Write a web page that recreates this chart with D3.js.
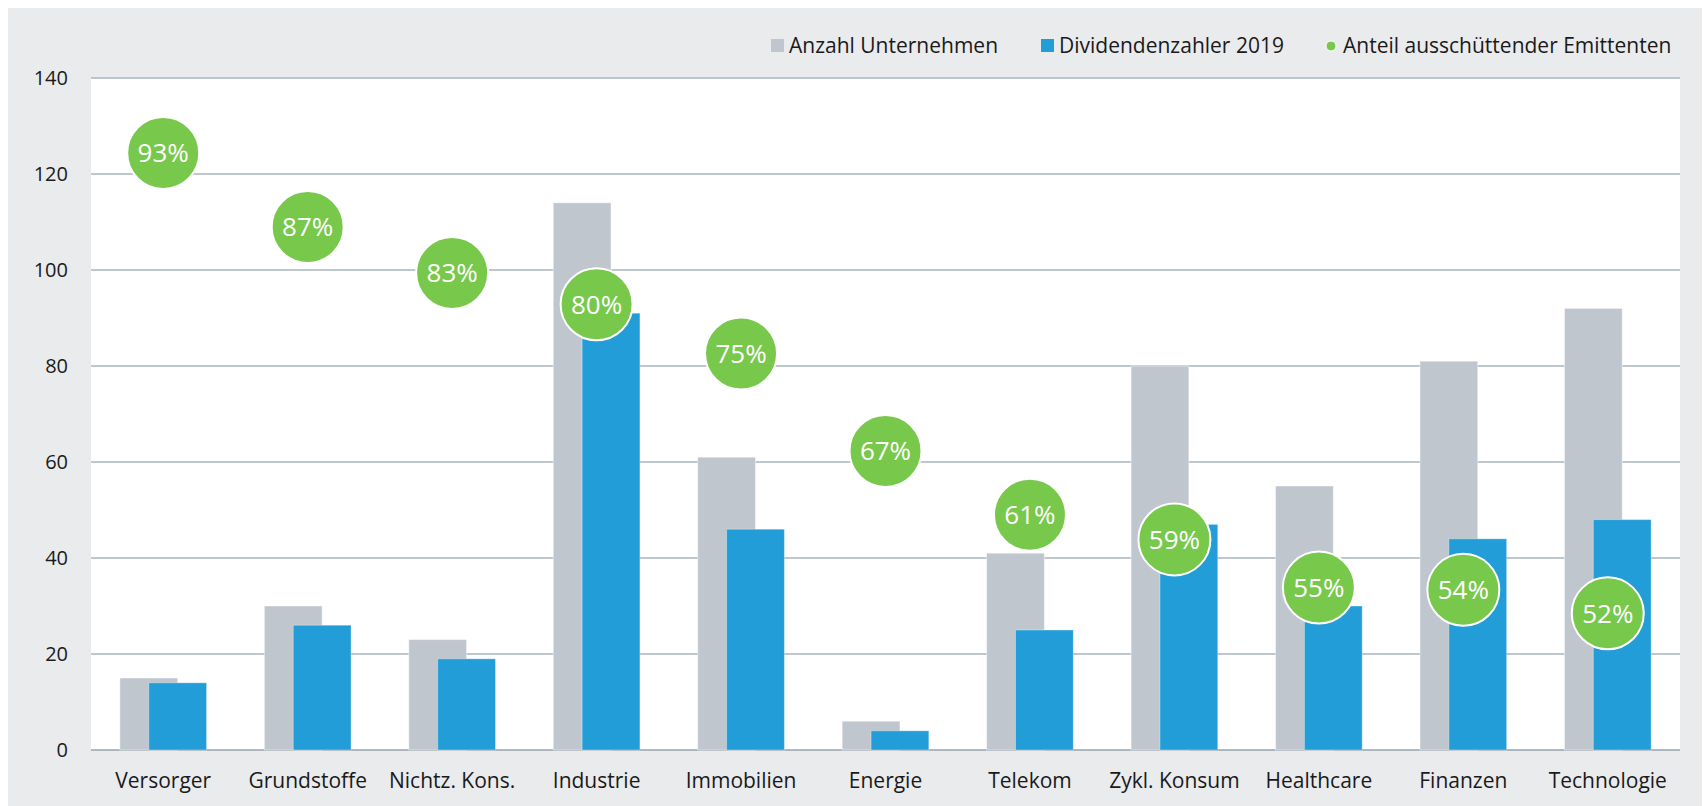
<!DOCTYPE html>
<html>
<head>
<meta charset="utf-8">
<script src="https://cdn.jsdelivr.net/npm/d3@7"></script>
<style>
  body { margin: 0; background: #fff; }
  svg { display: block; font-family: "Open Sans", sans-serif; }
</style>
</head>
<body>
<svg id="chart" width="1703" height="806"></svg>
<script>
// data
var categories = ["Versorger", "Grundstoffe", "Nichtz. Kons.", "Industrie", "Immobilien", "Energie",
  "Telekom", "Zykl. Konsum", "Healthcare", "Finanzen", "Technologie"];
var anzahl = [15, 30, 23, 114, 61, 6, 41, 80, 55, 81, 92];
var zahler = [14, 26, 19, 91, 46, 4, 25, 47, 30, 44, 48];
var anteil = [93.3, 86.7, 82.6, 79.8, 75.4, 66.7, 61.0, 58.8, 54.5, 54.3, 52.2];
var yTicks = [0, 20, 40, 60, 80, 100, 120, 140];
var seriesNames = ["Anzahl Unternehmen", "Dividendenzahler 2019", "Anteil ausschüttender Emittenten"];

var colGrey = "#bfc6cd", colBlue = "#229dd8", colGreen = "#77c84b";

var margin = {top: 78, right: 23, bottom: 56, left: 91}
  , width = 1703 - margin.left - margin.right
  , height = 806 - margin.top - margin.bottom;

var svg = d3.select("#chart");

// grey panel
svg.append("rect")
  .attr("x", 8).attr("y", 8)
  .attr("width", 1694).attr("height", 798)
  .attr("fill", "#e9ebed");

var g = svg.append("g")
  .attr("transform", "translate(" + margin.left + "," + margin.top + ")");

g.append("rect")
  .attr("width", width).attr("height", height)
  .attr("fill", "#fff");

var x = d3.scaleBand().domain(categories).range([0, width]);
var y = d3.scaleLinear().domain([0, 140]).range([height, 0]);
var y2 = d3.scaleLinear().domain([40, 100]).range([height, 0]); // hidden percent axis

// gridlines
g.append("g")
  .selectAll("line")
  .data(yTicks)
  .enter().append("line")
  .attr("x1", 0).attr("x2", width)
  .attr("y1", function(d) { return y(d); })
  .attr("y2", function(d) { return y(d); })
  .attr("stroke", function(d) { return d === 0 ? "#94a3ad" : "#aab4be"; })
  .attr("stroke-width", 1.5);

// y axis labels
var yAxis = g.append("g")
  .call(d3.axisLeft(y).tickValues(yTicks).tickSize(0).tickPadding(23));
yAxis.select(".domain").remove();
yAxis.selectAll("text")
  .attr("font-size", 20)
  .attr("font-family", "Open Sans, sans-serif")
  .attr("fill", "#1a1a1a");

// x axis labels
var xAxis = g.append("g")
  .attr("transform", "translate(0," + height + ")")
  .call(d3.axisBottom(x).tickSize(0).tickPadding(23));
xAxis.select(".domain").remove();
xAxis.selectAll("text")
  .attr("font-size", 21)
  .attr("font-family", "Open Sans, sans-serif")
  .attr("fill", "#1a1a1a");

var bw = x.bandwidth() * 0.4;
var off = x.bandwidth() * 0.2;

g.selectAll(".bar-grey")
  .data(anzahl)
  .enter().append("rect")
  .attr("class", "bar-grey")
  .attr("x", function(d, i) { return x(categories[i]) + off; })
  .attr("y", function(d) { return y(d); })
  .attr("width", bw)
  .attr("height", function(d) { return height - y(d); })
  .attr("fill", colGrey)
  .attr("stroke", "rgba(255,255,255,0.45)").attr("stroke-width", 1);

g.selectAll(".bar-blue")
  .data(zahler)
  .enter().append("rect")
  .attr("class", "bar-blue")
  .attr("x", function(d, i) { return x(categories[i]) + off + bw / 2; })
  .attr("y", function(d) { return y(d); })
  .attr("width", bw)
  .attr("height", function(d) { return height - y(d); })
  .attr("fill", colBlue)
  .attr("stroke", "rgba(255,255,255,0.35)").attr("stroke-width", 1);

// bubbles
var bub = g.selectAll(".bubble")
  .data(anteil)
  .enter().append("g")
  .attr("class", "bubble")
  .attr("transform", function(d, i) {
    return "translate(" + (x(categories[i]) + x.bandwidth() / 2) + "," + y2(d) + ")";
  });
bub.append("circle")
  .attr("r", 36)
  .attr("fill", colGreen)
  .attr("stroke", "#fff")
  .attr("stroke-width", 2);
bub.append("text")
  .attr("text-anchor", "middle")
  .attr("dy", "0.36em")
  .attr("font-size", 26)
  .attr("fill", "#fff")
  .text(function(d) { return Math.round(d) + "%"; });

// legend
var legX = [771, 1041, 1326];
var leg = svg.selectAll(".legend")
  .data(seriesNames)
  .enter().append("g")
  .attr("class", "legend")
  .attr("transform", function(d, i) { return "translate(" + legX[i] + ",0)"; });
leg.each(function(d, i) {
  var s = d3.select(this);
  if (i < 2) {
    s.append("rect").attr("x", 0).attr("y", 39).attr("width", 13).attr("height", 13)
      .attr("fill", i === 0 ? colGrey : colBlue);
  } else {
    s.append("circle").attr("cx", 5).attr("cy", 46).attr("r", 5)
      .attr("fill", colGreen).attr("stroke", "#fff").attr("stroke-width", 1);
  }
  s.append("text")
    .attr("x", i < 2 ? 18 : 17)
    .attr("y", 53)
    .attr("font-size", 21)
    .attr("fill", "#1a1a1a")
    .text(d);
});
</script>
</body>
</html>
